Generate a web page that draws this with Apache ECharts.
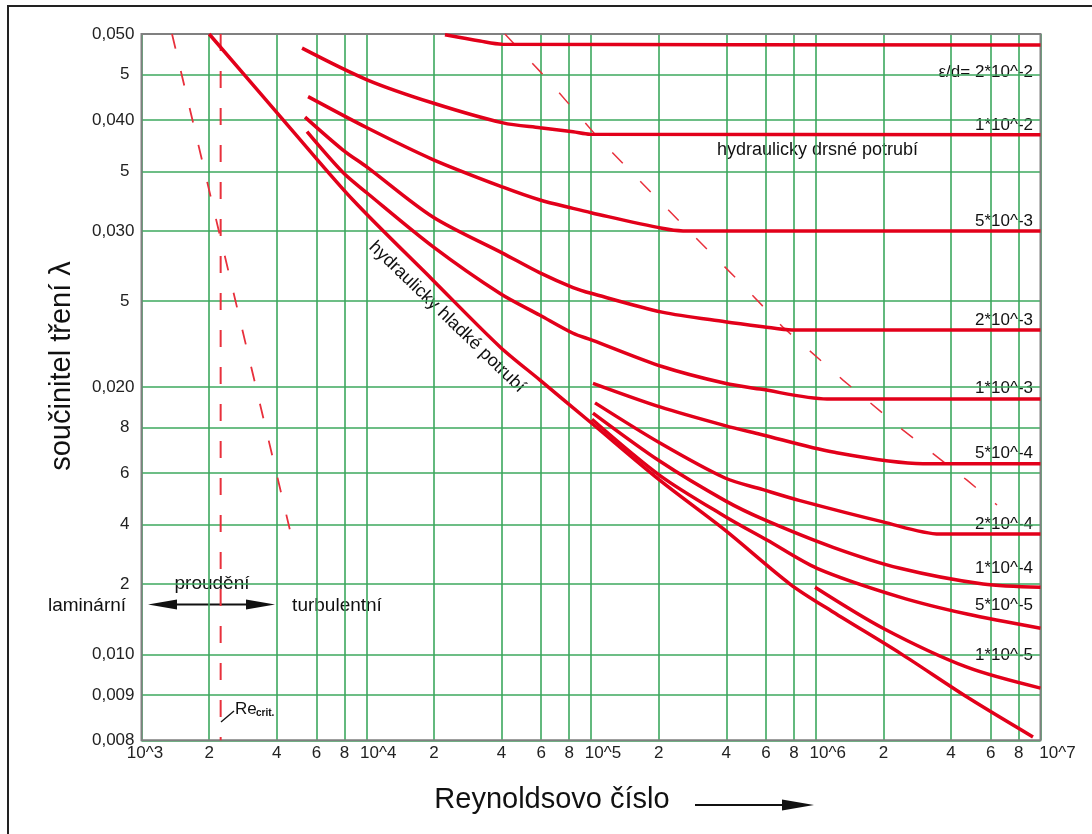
<!DOCTYPE html>
<html>
<head>
<meta charset="utf-8">
<script src="https://cdn.jsdelivr.net/npm/echarts@6/dist/echarts.min.js"></script>
<style>html,body{margin:0;padding:0;background:#fff}#c{width:1092px;height:834px}</style>
</head>
<body>
<div id="c"></div>
<script>
// ---- tick values and labels ----
const xTicks = [1e3,2e3,4e3,6e3,8e3,1e4,2e4,4e4,6e4,8e4,1e5,2e5,4e5,6e5,8e5,1e6,2e6,4e6,6e6,8e6,1e7];
const xTickLabels = ['10^3','2','4','6','8','10^4','2','4','6','8','10^5','2','4','6','8','10^6','2','4','6','8','10^7'];
const yTicks = [0.008,0.009,0.010,0.012,0.014,0.016,0.018,0.020,0.025,0.030,0.035,0.040,0.045,0.050];
const yTickLabels = ['0,008','0,009','0,010','2','4','6','8','0,020','5','0,030','5','0,040','5','0,050'];

// ---- curves [Re, lambda] ----
const smoothPipe = [[2000,0.0500],[4578,0.0392],[8730,0.0325],[19800,0.0264],[39400,0.0222],[59300,0.02037],[101000,0.0182],[202800,0.0157],[394800,0.0138],[768100,0.0120],[1194000,0.01116],[2371000,0.01003],[4710000,0.00895],[9260000,0.00807]];
const rough2e2 = [[22400,0.0499],[32070,0.0491],[40180,0.0487],[1e7,0.0486]];
const rough1e2 = [[5180,0.0482],[10080,0.0444],[19800,0.0418],[40600,0.0397],[59300,0.0392],[83200,0.0388],[99000,0.03855],[1e7,0.0385]];
const rough5e3 = [[5510,0.0425],[10080,0.0392],[19800,0.0361],[40600,0.0336],[59300,0.0325],[83200,0.0318],[101000,0.03143],[207000,0.0302],[256700,0.0300],[1e7,0.0300]];
const rough2e3 = [[5340,0.0403],[7880,0.0370],[10080,0.0354],[19800,0.0311],[40600,0.0283],[59300,0.0269],[83200,0.0259],[101000,0.0255],[207000,0.0243],[394800,0.0237],[582600,0.0234],[784000,0.0232],[1e7,0.0232]];
const rough1e3 = [[5450,0.0388],[7880,0.0349],[10080,0.0331],[19800,0.0288],[39400,0.0255],[59300,0.0241],[83200,0.0230],[101000,0.0226],[207000,0.0211],[394800,0.0202],[565000,0.0199],[1122000,0.0194],[1e7,0.0194]];
const rough5e4 = [[102000,0.0202],[202800,0.0190],[394800,0.0181],[565000,0.0177],[1194000,0.0169],[3000000,0.0164],[1e7,0.0164]];
const rough2e4 = [[104200,0.0192],[202800,0.0173],[394800,0.0158],[582600,0.01533],[851000,0.0149],[1992000,0.0141],[3572000,0.01366],[1e7,0.01366]];
const rough1e4 = [[102000,0.0187],[202800,0.0165],[394800,0.0149],[582600,0.0142],[1194000,0.0132],[2371000,0.0125],[5549000,0.0120],[1e7,0.0119]];
const rough5e5 = [[101000,0.0184],[202800,0.0159],[394800,0.0143],[606900,0.01345],[1013000,0.0125],[2371000,0.0116],[4710000,0.0111],[1e7,0.0107]];
const rough1e5 = [[992500,0.0119],[1992000,0.0107],[4710000,0.00967],[1e7,0.00916]];
const laminarLine = [[1367,0.0500],[4578,0.0138]];
const reCritLine = [[2250,0.0500],[2250,0.0080]];
const roughBoundary = [[41400,0.0500],[65030,0.04426],[109650,0.03798],[254100,0.03054],[446200,0.02647],[715100,0.02336],[1322000,0.02037],[2445000,0.01789],[4710000,0.01571],[6405000,0.01473]];

const curveLabels = ['ε/d= 2*10^-2','1*10^-2','5*10^-3','2*10^-3','1*10^-3','5*10^-4','2*10^-4','1*10^-4','5*10^-5','1*10^-5'];

const FONT = '"Liberation Sans", Arial, Helvetica, sans-serif';
const RED = '#e2001a';
const GREEN = '#3ca85e';

function idxOf(arr, v){
  for (let i=0;i<arr.length;i++){ if (Math.abs(v-arr[i])/arr[i] < 1e-6) return i; }
  return -1;
}

const chart = echarts.init(document.getElementById('c'), null, {renderer:'canvas'});

function curve(data){
  return {type:'line', data:data, showSymbol:false, symbol:'none', smooth:0.3, silent:true,
    lineStyle:{color:RED, width:3.5}, z:5};
}
function dashed(data, dash, width){
  return {type:'line', data:data, showSymbol:false, symbol:'none', silent:true,
    lineStyle:{color:'#e8303c', width:width, type:dash}, z:4};
}

const labelY = [72,125,221,320,388,453,524,568,605,655];
const graphics = [
  {type:'rect', shape:{x:8,y:6,width:1200,height:1000}, style:{fill:'none', stroke:'#222', lineWidth:2}, silent:true},
  {type:'text', x:62, y:366, rotation:Math.PI/2, style:{text:'součinitel tření λ', fontSize:29, fontFamily:FONT, fill:'#111', textAlign:'center', textVerticalAlign:'middle', align:'center', verticalAlign:'middle'}},
  {type:'text', x:552, y:800, style:{text:'Reynoldsovo číslo', fontSize:29, fontFamily:FONT, fill:'#111', textAlign:'center', textVerticalAlign:'middle', align:'center', verticalAlign:'middle'}},
  {type:'line', shape:{x1:695,y1:805,x2:790,y2:805}, style:{stroke:'#111', lineWidth:2}},
  {type:'polygon', shape:{points:[[814,805],[782,799.5],[782,810.5]]}, style:{fill:'#111'}},
  {type:'line', shape:{x1:170,y1:604.5,x2:255,y2:604.5}, style:{stroke:'#111', lineWidth:2}},
  {type:'polygon', shape:{points:[[148,604.5],[177,599.5],[177,609.5]]}, style:{fill:'#111'}},
  {type:'polygon', shape:{points:[[275,604.5],[246,599.5],[246,609.5]]}, style:{fill:'#111'}},
  {type:'text', x:212, y:584, style:{text:'proudění', fontSize:19, fontFamily:FONT, fill:'#111', textAlign:'center', textVerticalAlign:'middle', align:'center', verticalAlign:'middle', backgroundColor:'#fff'}},
  {type:'text', x:87, y:606, style:{text:'laminární', fontSize:19, fontFamily:FONT, fill:'#111', textAlign:'center', textVerticalAlign:'middle', align:'center', verticalAlign:'middle'}},
  {type:'text', x:337, y:606, style:{text:'turbulentní', fontSize:19, fontFamily:FONT, fill:'#111', textAlign:'center', textVerticalAlign:'middle', align:'center', verticalAlign:'middle'}},
  {type:'line', shape:{x1:221,y1:722,x2:234,y2:711}, style:{stroke:'#111', lineWidth:1.3}},
  {type:'text', x:235, y:709, style:{text:'Re', fontSize:17, fontFamily:FONT, fill:'#111', textAlign:'left', textVerticalAlign:'middle', align:'left', verticalAlign:'middle'}},
  {type:'text', x:256, y:713, style:{text:'crit.', fontSize:10, fontWeight:'bold', fontFamily:FONT, fill:'#111', textAlign:'left', textVerticalAlign:'middle', align:'left', verticalAlign:'middle'}},
  {type:'text', x:717, y:150, style:{text:'hydraulicky drsné potrubí', fontSize:18, fontFamily:FONT, fill:'#111', textAlign:'left', textVerticalAlign:'middle', align:'left', verticalAlign:'middle'}},
  {type:'text', x:447, y:317, rotation:-0.768, style:{text:'hydraulicky hladké potrubí', fontSize:18, fontFamily:FONT, fill:'#111', textAlign:'center', textVerticalAlign:'middle', align:'center', verticalAlign:'middle'}}
];
curveLabels.forEach(function(t,i){
  graphics.push({type:'text', x:1033, y:labelY[i], style:{text:t, fontSize:17, fontFamily:FONT, fill:'#111', textAlign:'right', textVerticalAlign:'middle', align:'right', verticalAlign:'middle'}});
});

const option = {
  animation:false,
  backgroundColor:'#fff',
  grid:{left:141.5, right:51.5, top:34, bottom:93.7, containLabel:false, outerBoundsMode:'none',
    show:true, borderColor:'#808080', borderWidth:2, backgroundColor:'transparent', z:3},
  xAxis:{type:'log', logBase:10, min:1000, max:1e7,
    axisLine:{show:false}, axisTick:{show:false, customValues:xTicks},
    axisLabel:{customValues:xTicks, fontSize:17, fontFamily:FONT, color:'#222', margin:5,
      formatter:function(v){ const i=idxOf(xTicks,v); const s = i>=0 ? xTickLabels[i] : '';
        if (s.indexOf('10^')===0){ const k = i===0 ? 'a' : (i===xTicks.length-1 ? 'c' : 'b'); return '{'+k+'|'+s+'}'; }
        return s; },
      rich:{a:{fontSize:17,fontFamily:FONT,color:'#222',padding:[0,0,0,7]},
            b:{fontSize:17,fontFamily:FONT,color:'#222',padding:[0,0,0,24]},
            c:{fontSize:17,fontFamily:FONT,color:'#222',padding:[0,0,0,34]}}},
    splitLine:{show:true, lineStyle:{color:GREEN, width:1.6}},
    minorTick:{show:false}, minorSplitLine:{show:false}},
  yAxis:{type:'log', logBase:10, min:0.008, max:0.05,
    axisLine:{show:false}, axisTick:{show:false, customValues:yTicks},
    axisLabel:{customValues:yTicks, fontSize:17, fontFamily:FONT, color:'#222', margin:7,
      formatter:function(v){ const i=idxOf(yTicks,v); const s = i>=0 ? yTickLabels[i] : '';
        if (s.length===1) return '{s|'+s+'}'; return s; },
      rich:{s:{fontSize:17,fontFamily:FONT,color:'#222',padding:[0,5,0,0]}}},
    splitLine:{show:true, lineStyle:{color:GREEN, width:1.6}},
    minorTick:{show:false}, minorSplitLine:{show:false}},
  series:[
    curve(smoothPipe), curve(rough2e2), curve(rough1e2), curve(rough5e3), curve(rough2e3), curve(rough1e3),
    curve(rough5e4), curve(rough2e4), curve(rough1e4), curve(rough5e5), curve(rough1e5),
    dashed(laminarLine,[15,23],1.8), dashed(reCritLine,[17,20],2), dashed(roughBoundary,[15,25],1.5)
  ],
  graphic:{elements:graphics}
};
chart.setOption(option);
</script>
</body>
</html>
